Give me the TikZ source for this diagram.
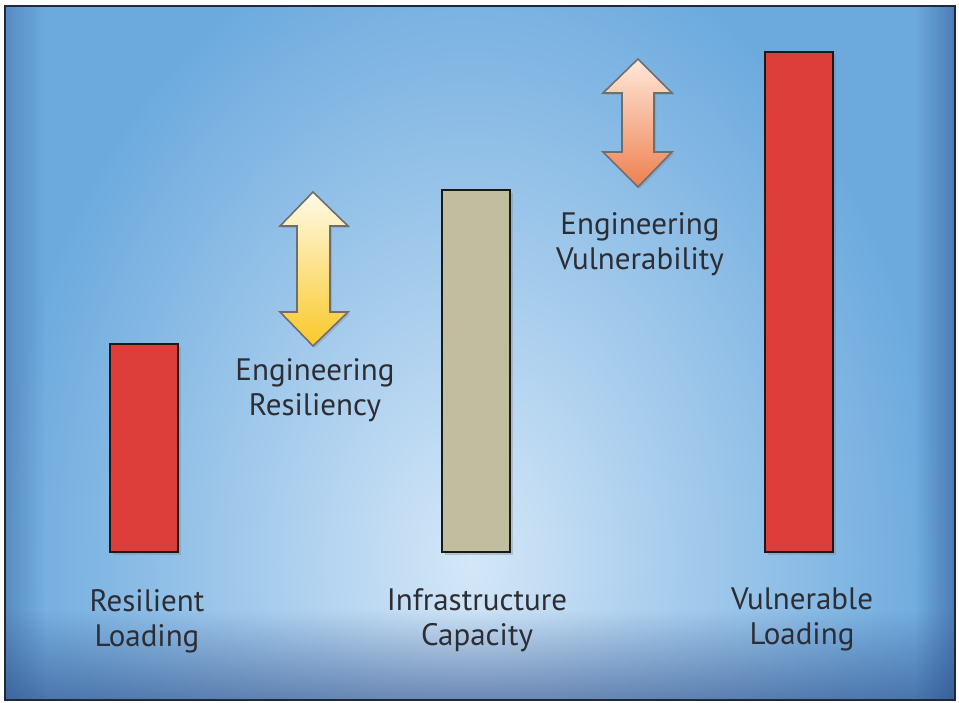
\documentclass[tikz,border=0pt]{standalone}
\usepackage{fontspec}
\setmainfont{PT Sans}
\usetikzlibrary{shadows,fadings}
\tikzfading[name=fadebottom, top color=transparent!100, bottom color=transparent!0]
\tikzfading[name=fadeleft, left color=transparent!0, right color=transparent!100]
\tikzfading[name=faderight, left color=transparent!100, right color=transparent!0]

\begin{document}
\begin{tikzpicture}[x=1pt, y=-1pt,
		label/.style={align=center, text={TEXT_GRAY}, font={\fontsize{31}{35}\selectfont}},
		bar/.style={draw={ALMOST_BLACK}, line width={2pt}, drop shadow={shadow xshift=3pt, shadow yshift=-3pt, opacity=0.35}},
		twoway/.style={draw={ARROW_GRAY}, line width={1.6pt}, line join=miter, drop shadow={shadow xshift=2pt, shadow yshift=-2pt, opacity=0.3}}]
				\definecolor{BG_BASE}{RGB}{108, 170, 222}
				\definecolor{BG_LIGHT}{RGB}{212, 231, 248}
				\definecolor{BG_DARK}{RGB}{40, 70, 130}
				\definecolor{RED}{RGB}{222, 62, 58}
				\definecolor{KHAKI}{RGB}{192, 190, 158}
				\definecolor{ALMOST_BLACK}{RGB}{25, 25, 25}
				\definecolor{ARROW_GRAY}{RGB}{110, 110, 110}
				\definecolor{CREAM}{RGB}{255, 250, 232}
				\definecolor{GOLD}{RGB}{250, 200, 40}
				\definecolor{PEACH}{RGB}{255, 232, 218}
				\definecolor{ORANGE}{RGB}{238, 128, 80}
				\definecolor{TEXT_GRAY}{RGB}{45, 45, 52}
				\definecolor{FRAME}{RGB}{35, 40, 55}
				\useasboundingbox (0,0) rectangle (959,703);
				\fill[white] (0,0) rectangle (959,703);
				
				% background
				\begin{scope}
					\clip (5,6) rectangle (955,700);
					\fill[BG_BASE] (5,6) rectangle (955,700);
					\shade[inner color={BG_LIGHT}, outer color={BG_BASE}] (470,560) ellipse (470 and 640);
					\fill[BG_DARK, path fading=fadebottom, opacity=0.55] (5,610) rectangle (955,700);
					\fill[BG_DARK, path fading=fadeleft, opacity=0.3] (5,6) rectangle (45,700);
					\fill[BG_DARK, path fading=faderight, opacity=0.45] (915,6) rectangle (955,700);
				\end{scope}
				\draw[FRAME, line width={1.6pt}] (5,6) rectangle (955,700);
				
				% bars
				\draw[bar, fill={RED}] (110,344) rectangle (178,552);
				\draw[bar, fill={KHAKI}] (442,190) rectangle (510,552);
				\draw[bar, fill={RED}] (765,52) rectangle (833,552);
				
				% double arrows
				\shade[twoway, top color={CREAM}, bottom color={GOLD}] (313,192) -- (348,226) -- (330,226) -- (330,312) 
					-- (348,312) -- (313,346) -- (280,312) -- (297,312) -- (297,226) -- (280,226) -- cycle;
				\shade[twoway, top color={PEACH}, bottom color={ORANGE}] (638,59) -- (672,93) -- (654,93) -- (654,152) 
					-- (672,152) -- (638,187) -- (603,152) -- (622,152) -- (622,93) -- (603,93) -- cycle;
				
				% labels
				\node[label] (resilience) at (315,390.5) {Engineering\\Resiliency};
				\node[label] (vulnerability) at (640,244.5) {Engineering\\Vulnerability};
				\node[label] (resload) at (147,621) {Resilient\\Loading};
				\node[label] (capacity) at (477,620.5) {Infrastructure\\Capacity};
				\node[label] (vulload) at (802,619.5) {Vulnerable\\Loading};
			\end{tikzpicture}
\end{document}
